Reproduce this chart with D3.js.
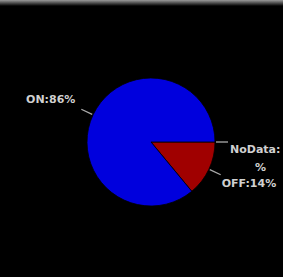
<!DOCTYPE html>
<html>
<head>
<meta charset="utf-8">
<script src="https://cdn.jsdelivr.net/npm/d3@7"></script>
<style>
  html, body { margin: 0; padding: 0; background: #000; }
  svg { display: block; }
  .lbl { fill: #d0d0d0; font-family: "DejaVu Sans", sans-serif; font-weight: bold; font-size: 11px; }
</style>
</head>
<body>
<div id="chart"></div>
<script>
// Waarden uit de afbeelding
var labels = ['NoData', 'OFF', 'ON'];
var values = [0, 14, 86];
var colors = ['#888888', '#a00000', '#0000dd'];

var W = 283, H = 277;
var cx = 151, cy = 142, R = 64;

var svg = d3.select('#chart').append('svg')
    .attr('width', W)
    .attr('height', H);

// grijze rand bovenaan
var grad = svg.append('defs').append('linearGradient')
    .attr('id', 'topfade').attr('x1', 0).attr('y1', 0).attr('x2', 0).attr('y2', 1);
grad.append('stop').attr('offset', 0).attr('stop-color', '#9a9a9a');
grad.append('stop').attr('offset', 1).attr('stop-color', '#000');
svg.append('rect').attr('width', W).attr('height', 6).attr('fill', 'url(#topfade)');

var data = labels.map(function (l, i) { return { label: l, value: values[i], color: colors[i] }; });

var pie = d3.pie()
    .sort(null)
    .value(function (d) { return d.value; })
    .startAngle(Math.PI / 2)
    .endAngle(Math.PI / 2 + 2 * Math.PI);

var arcs = pie(data);
var arc = d3.arc().innerRadius(0).outerRadius(R);

var g = svg.append('g').attr('transform', 'translate(' + cx + ',' + cy + ')');

g.selectAll('path.slice')
    .data(arcs.filter(function (d) { return d.data.value > 0; }))
    .join('path')
    .attr('class', 'slice')
    .attr('d', arc)
    .attr('fill', function (d) { return d.data.color; })
    .attr('stroke', '#000')
    .attr('stroke-width', 0.8);

function mid(d) { return (d.startAngle + d.endAngle) / 2; }
function pt(a, r) { return [Math.sin(a) * r, -Math.cos(a) * r]; }

// leader-lijnen
g.selectAll('line.lead')
    .data(arcs)
    .join('line')
    .attr('class', 'lead')
    .attr('x1', function (d) { return pt(mid(d), R + 1)[0]; })
    .attr('y1', function (d) { return pt(mid(d), R + 1)[1]; })
    .attr('x2', function (d) { return pt(mid(d), R + 13)[0]; })
    .attr('y2', function (d) { return pt(mid(d), R + 13)[1]; })
    .attr('stroke', '#aaaaaa')
    .attr('stroke-width', 1.3);

// labels
arcs.forEach(function (d) {
    var p = pt(mid(d), R + 13);
    var txt = d.data.label + ':' + d.data.value + '%';
    if (d.data.label === 'ON') {
        g.append('text').attr('class', 'lbl')
            .attr('x', p[0] - 6).attr('y', p[1] - 6)
            .attr('text-anchor', 'end')
            .text(txt);
    } else if (d.data.label === 'OFF') {
        g.append('text').attr('class', 'lbl')
            .attr('x', p[0] + 1).attr('y', p[1] + 12)
            .attr('text-anchor', 'start')
            .text(txt);
    } else {
        // te smal: wordt afgebroken
        var t = g.append('text').attr('class', 'lbl').attr('text-anchor', 'start');
        t.append('tspan').attr('x', p[0] + 2).attr('y', p[1] + 11).text(d.data.label + ':');
        t.append('tspan').attr('x', p[0] + 27).attr('y', p[1] + 29).text('%');
    }
});
</script>
</body>
</html>
